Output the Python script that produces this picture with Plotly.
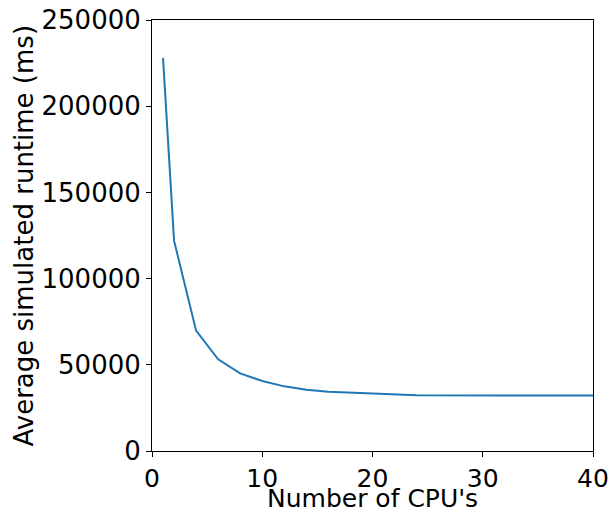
import plotly.graph_objects as go

cpus = [1, 2, 4, 6, 8, 10, 12, 14, 16, 20, 24, 32, 40]
runtime_ms = [228000, 122000, 69800, 53200, 45000, 40600, 37500, 35500, 34300, 33300, 32400, 32200, 32200]

x_ticks = [0, 10, 20, 30, 40]
y_ticks = [0, 50000, 100000, 150000, 200000, 250000]
x_title = "Number of CPU's"
y_title = "Average simulated runtime (ms)"

fig = go.Figure()
fig.add_trace(go.Scatter(x=cpus, y=runtime_ms, mode="lines",
                         line=dict(color="#1f77b4", width=2), showlegend=False))

font = dict(family="DejaVu Sans", size=26, color="black")
xfont = dict(family="DejaVu Sans", size=25, color="black")
axis_common = dict(showline=True, linecolor="black", linewidth=1, mirror=True,
                   ticks="outside", ticklen=5, tickwidth=1, tickcolor="black",
                   showgrid=False, zeroline=False, automargin=False)

fig.update_layout(
    width=612, height=510,
    margin=dict(l=152, r=19, t=20, b=59),
    paper_bgcolor="white", plot_bgcolor="white",
    font=font,
    xaxis=dict(range=[0, 40], tickvals=x_ticks, ticktext=[str(v) for v in x_ticks],
               tickfont=xfont, **axis_common),
    yaxis=dict(range=[0, 250000], tickvals=y_ticks, ticktext=[str(v) for v in y_ticks],
               tickfont=font, **axis_common),
    annotations=[
        dict(text=x_title, xref="paper", yref="paper", x=0.5, y=-0.11,
             xanchor="center", yanchor="middle", showarrow=False, font=xfont),
        dict(text=y_title, xref="paper", yref="paper", x=-0.2925, y=0.5,
             xanchor="center", yanchor="middle", textangle=-90, showarrow=False, font=font),
    ],
)

fig.write_html("out.html")
